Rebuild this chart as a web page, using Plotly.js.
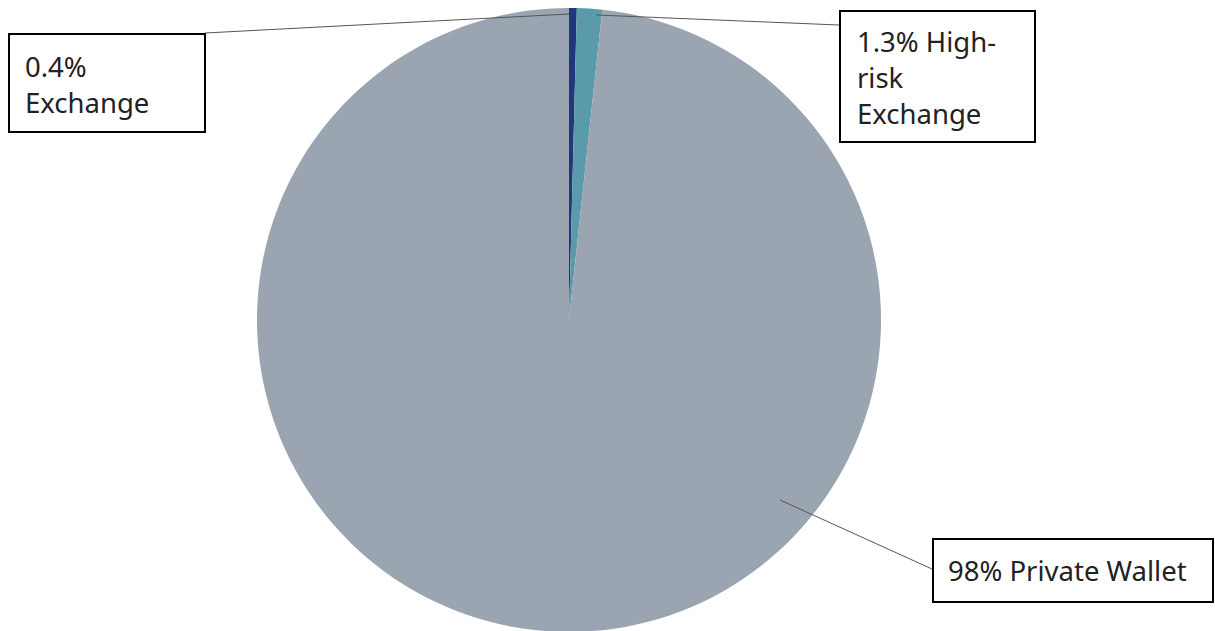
<!DOCTYPE html>
<html>
<head>
<meta charset="utf-8">
<script src="https://cdn.plot.ly/plotly-3.0.1.min.js"></script>
<style>html,body{margin:0;padding:0;background:#fff;overflow:hidden;}</style>
</head>
<body>
<div id="chart" style="width:1215px;height:632px;"></div>
<script>
const categories = ["Exchange", "High-risk Exchange", "Private Wallet"];
const shares = [0.4, 1.3, 98.3];
const labelTexts = ["0.4%<br>Exchange", "1.3% High-<br>risk<br>Exchange", "98% Private Wallet"];
const sliceColors = ["#22367a", "#5a9aab", "#9aa5b1"];

const W = 1215, H = 632;
const font = {family: "Noto Sans, sans-serif", size: 27.5, color: "#222"};

const data = [{
  type: "pie",
  labels: categories,
  values: shares,
  sort: false,
  direction: "clockwise",
  rotation: 0,
  textinfo: "none",
  hoverinfo: "label+percent",
  marker: {colors: sliceColors, line: {width: 0}},
  domain: {x: [257 / W, 881 / W], y: [0, 1 - 8 / H]},
  showlegend: false
}];

function label(text, x, yMid) {
  return {
    text: text, showarrow: false, xref: "x", yref: "y",
    x: x, y: yMid, xanchor: "left", yanchor: "middle",
    align: "left", font: font, borderpad: 0
  };
}
function rect(x0, y0, x1, y1) {
  return {type: "rect", xref: "x", yref: "y", x0: x0, y0: y0, x1: x1, y1: y1,
          fillcolor: "#fff", line: {color: "#000", width: 2}, layer: "above"};
}
function leader(x0, y0, x1, y1) {
  return {type: "line", xref: "x", yref: "y", x0: x0, y0: y0, x1: x1, y1: y1,
          line: {color: "#555", width: 1}, layer: "above"};
}

const layout = {
  width: W, height: H,
  margin: {l: 0, r: 0, t: 0, b: 0},
  paper_bgcolor: "#fff", plot_bgcolor: "rgba(0,0,0,0)",
  xaxis: {range: [0, W], visible: false, fixedrange: true},
  yaxis: {range: [H, 0], visible: false, fixedrange: true},
  shapes: [
    leader(205, 33, 569, 14),
    leader(839, 25, 596, 15),
    leader(780, 500, 932, 569),
    rect(9, 34, 205, 132),
    rect(840, 11, 1035, 142),
    rect(933, 539, 1213, 602)
  ],
  annotations: [
    label(labelTexts[0], 24, 84),
    label(labelTexts[1], 856, 77),
    label(labelTexts[2], 947, 570)
  ]
};

Plotly.newPlot("chart", data, layout, {displayModeBar: false, staticPlot: true});
</script>
</body>
</html>
